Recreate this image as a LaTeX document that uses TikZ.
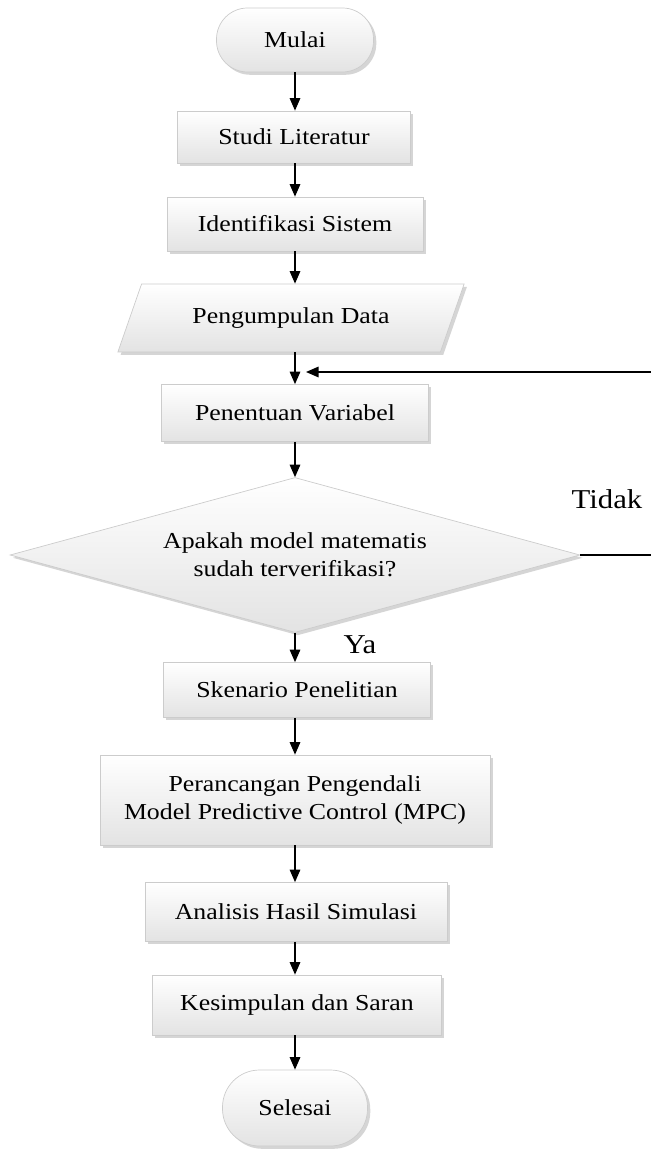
\documentclass[tikz,border=0pt]{standalone}
\usepackage{fontspec}
\setmainfont{Liberation Serif}[FakeStretch=1.13]
\usepackage{tikz}
\usetikzlibrary{shapes,arrows,arrows.meta,shadows}
\tikzstyle{arrow} = [thick,-{Triangle[length=2.5mm,width=2.1mm]}]
\tikzstyle{line} = [thick]
\tikzstyle{proses} = [rectangle, draw=gray!40, top color=white, bottom color=gray!22, drop shadow={shadow xshift=1.6pt, shadow yshift=-1.6pt, fill=gray!65}, align=center, font=\fontsize{13}{16}\selectfont]
\tikzstyle{terminal} = [proses, rounded corners=0.62cm]
\tikzstyle{keputusan} = [proses, diamond, aspect=3.7, inner sep=0pt]
\tikzstyle{dataio} = [proses, trapezium, trapezium left angle=63, trapezium right angle=117, trapezium stretches=true]
\tikzstyle{label} = [font=\fontsize{15.5}{18}\selectfont]

\begin{document}
\begin{tikzpicture}[x=0.02cm, y=-0.02cm]
        \useasboundingbox (0,0) rectangle (651,1151);
        \node (Mulai) at (295,40) [terminal, minimum width=3.14cm, minimum height=1.28cm] {Mulai};
        \node (Studi) at (294,137) [proses, minimum width=4.66cm, minimum height=1.04cm] {Studi Literatur};
        \node (Ident) at (295,224) [proses, minimum width=5.12cm, minimum height=1.08cm] {Identifikasi Sistem};
        \node (Data) at (291,318) [dataio, minimum width=6.94cm, minimum height=1.36cm] {Pengumpulan Data};
        \coordinate (Junc) at (295,372);
        \node (Var) at (295,413) [proses, minimum width=5.34cm, minimum height=1.14cm] {Penentuan Variabel};
        \node (Cek) at (295,555) [keputusan, minimum width=11.4cm, minimum height=3.1cm] {Apakah model matematis\\sudah terverifikasi?};
        \node (Tidak) at (607,499) [label] {Tidak};
        \node (Ya) at (360,645) [label] {Ya};
        \node (Skenario) at (297,690) [proses, minimum width=5.34cm, minimum height=1.1cm] {Skenario Penelitian};
        \node (MPC) at (295,800) [proses, minimum width=7.8cm, minimum height=1.8cm] {Perancangan Pengendali\\Model Predictive Control (MPC)};
        \node (Analisis) at (296,912) [proses, minimum width=6.04cm, minimum height=1.18cm] {Analisis Hasil Simulasi};
        \node (Simpul) at (297,1005) [proses, minimum width=5.78cm, minimum height=1.2cm] {Kesimpulan dan Saran};
        \node (Selesai) at (295,1108) [terminal, minimum width=2.9cm, minimum height=1.52cm, rounded corners=0.74cm] {Selesai};

        \coordinate (Kanan1) at (653,555);
        \coordinate (Kanan2) at (653,372);
        \coordinate (Masuk) at (306,372);

        \draw [arrow] (Mulai) -- (Studi.north -| Mulai);
        \draw [arrow] (Studi.south -| Ident) -- (Ident);
        \draw [arrow] (Ident) -- (Data.north -| Ident);
        \draw [arrow] (Data.south -| Var) -- (Var);
        \draw [arrow] (Var) -- (Cek);
        \draw [arrow] (Cek) -- (Skenario.north -| Cek);
        \draw [arrow] (Skenario.south -| MPC) -- (MPC);
        \draw [arrow] (MPC) -- (Analisis.north -| MPC);
        \draw [arrow] (Analisis.south -| MPC) -- (Simpul.north -| MPC);
        \draw [arrow] (Simpul.south -| Selesai) -- (Selesai);
        \draw [line] (Cek.east) -- (Kanan1) -- (Kanan2);
        \draw [arrow] (Kanan2) -- (Masuk);
\end{tikzpicture}
\end{document}
